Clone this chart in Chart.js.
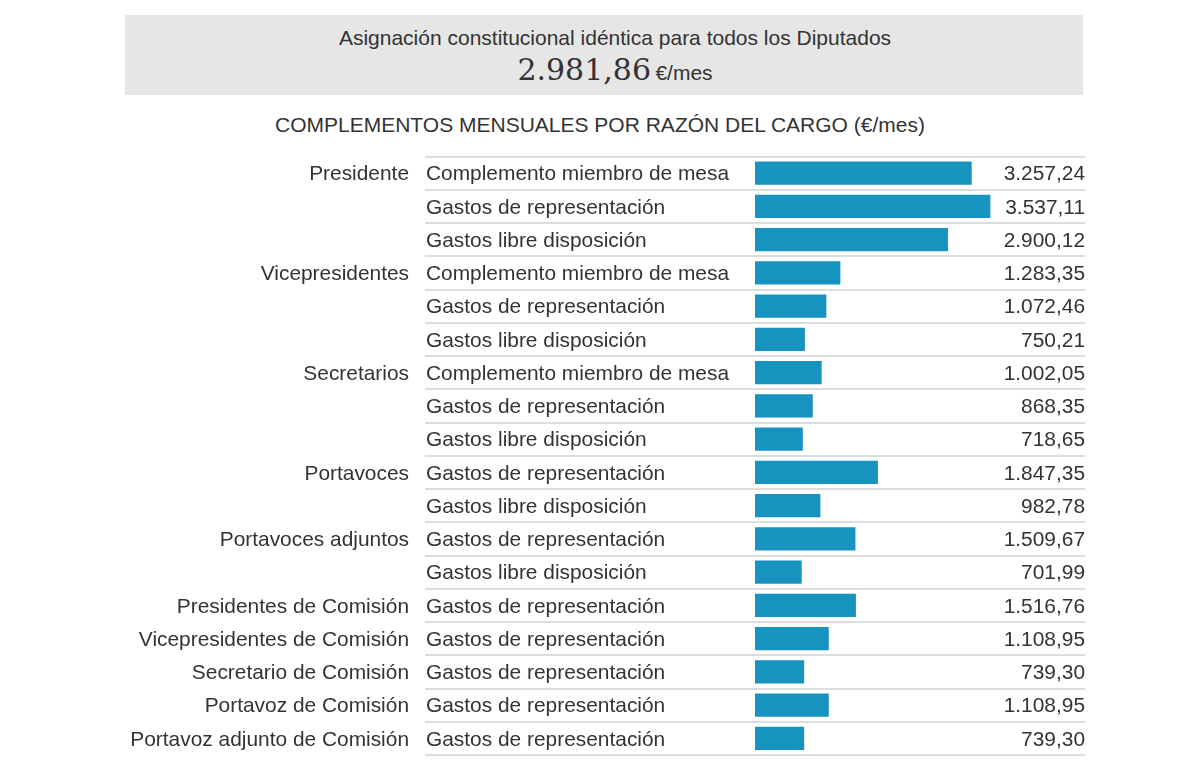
<!DOCTYPE html>
<html lang="es">
<head>
    <meta charset="UTF-8">
    <title>Complementos mensuales por razón del cargo</title>
    <script src="https://cdn.jsdelivr.net/npm/chart.js"></script>
    <style>
        body { margin: 0; background: #fff; font-family: "Liberation Sans", Arial, sans-serif; color: #333; }
        #wrap { position: relative; width: 1200px; height: 784px; }
        #cabecera {
            position: absolute; left: 125px; top: 15px; width: 958px; height: 80px;
            background: #e6e6e6; text-align: center;
        }
        #cabecera .t1 { position: absolute; left: 22px; right: 0; top: 11px; font-size: 21px; line-height: 24px; }
        #cabecera .t2 { position: absolute; left: 22px; right: 0; top: 37px; line-height: 36px; }
        #cabecera .num { font-family: "DejaVu Serif", "Liberation Serif", serif; font-size: 30px; }
        #cabecera .ud { font-size: 21px; }
        #subtitulo { position: absolute; left: 0; width: 1200px; top: 113px; text-align: center; font-size: 21px; line-height: 24px; }
        #grafico { position: absolute; left: 0; top: 150px; }
    </style>
</head>
<body>
<div id="wrap">
    <div id="cabecera">
        <div class="t1">Asignación constitucional idéntica para todos los Diputados</div>
        <div class="t2"><span class="num">2.981,86</span> <span class="ud">€/mes</span></div>
    </div>
    <div id="subtitulo">COMPLEMENTOS MENSUALES POR RAZÓN DEL CARGO (€/mes)</div>
    <canvas id="grafico" width="1200" height="620"></canvas>
</div>

<script>
    // cargos (solo en la primera fila de cada grupo)
    const cargos = ['Presidente', '', '', 'Vicepresidentes', '', '', 'Secretarios', '', '',
        'Portavoces', '', 'Portavoces adjuntos', '', 'Presidentes de Comisión',
        'Vicepresidentes de Comisión', 'Secretario de Comisión', 'Portavoz de Comisión',
        'Portavoz adjunto de Comisión'];

    const conceptos = ['Complemento miembro de mesa', 'Gastos de representación', 'Gastos libre disposición',
        'Complemento miembro de mesa', 'Gastos de representación', 'Gastos libre disposición',
        'Complemento miembro de mesa', 'Gastos de representación', 'Gastos libre disposición',
        'Gastos de representación', 'Gastos libre disposición',
        'Gastos de representación', 'Gastos libre disposición',
        'Gastos de representación', 'Gastos de representación', 'Gastos de representación',
        'Gastos de representación', 'Gastos de representación'];

    const importes = [3257.24, 3537.11, 2900.12, 1283.35, 1072.46, 750.21, 1002.05, 868.35, 718.65,
        1847.35, 982.78, 1509.67, 701.99, 1516.76, 1108.95, 739.30, 1108.95, 739.30];

    // formato 3.257,24
    function formatoEuros(v) {
        const partes = v.toFixed(2).split('.');
        const entero = partes[0].replace(/\B(?=(\d{3})+(?!\d))/g, '.');
        return entero + ',' + partes[1];
    }

    const FUENTE = '20.9px "Liberation Sans", Arial, sans-serif';
    const COLOR_TEXTO = '#333333';

    // dibuja etiquetas, importes y separadores de cada fila
    const filasPlugin = {
        id: 'filas',
        beforeDatasetsDraw(chart) {
            const ctx = chart.ctx;
            const y = chart.scales.y;
            const alto = Math.abs(y.getPixelForValue(1) - y.getPixelForValue(0));
            ctx.save();
            ctx.strokeStyle = '#dddddd';
            ctx.lineWidth = 2;
            for (let i = 0; i <= importes.length; i++) {
                const yy = Math.round(y.getPixelForValue(0) - alto / 2 + i * alto);
                ctx.beginPath();
                ctx.moveTo(425, yy);
                ctx.lineTo(1085, yy);
                ctx.stroke();
            }
            ctx.restore();
        },
        afterDatasetsDraw(chart) {
            const ctx = chart.ctx;
            const y = chart.scales.y;
            ctx.save();
            ctx.font = FUENTE;
            ctx.fillStyle = COLOR_TEXTO;
            ctx.textBaseline = 'middle';
            importes.forEach((v, i) => {
                const yy = y.getPixelForValue(i) + 1.5;
                ctx.textAlign = 'right';
                if (cargos[i]) ctx.fillText(cargos[i], 409, yy);
                ctx.fillText(formatoEuros(v), 1085, yy);
                ctx.textAlign = 'left';
                ctx.fillText(conceptos[i], 426, yy);
            });
            ctx.restore();
        }
    };

    const ctx = document.getElementById('grafico').getContext('2d');
    new Chart(ctx, {
        type: 'bar',
        data: {
            labels: conceptos,
            datasets: [{
                data: importes,
                backgroundColor: '#1793bf',
                borderWidth: 0,
                barPercentage: 0.7,
                categoryPercentage: 1
            }]
        },
        options: {
            indexAxis: 'y',
            responsive: false,
            animation: false,
            layout: { padding: { left: 755, right: 115, top: 6.5, bottom: 15 } },
            scales: {
                x: { display: false, min: 0, max: 4960 },
                y: { display: false }
            },
            plugins: {
                legend: { display: false },
                tooltip: { enabled: false }
            }
        },
        plugins: [filasPlugin]
    });
</script>
</body>
</html>
